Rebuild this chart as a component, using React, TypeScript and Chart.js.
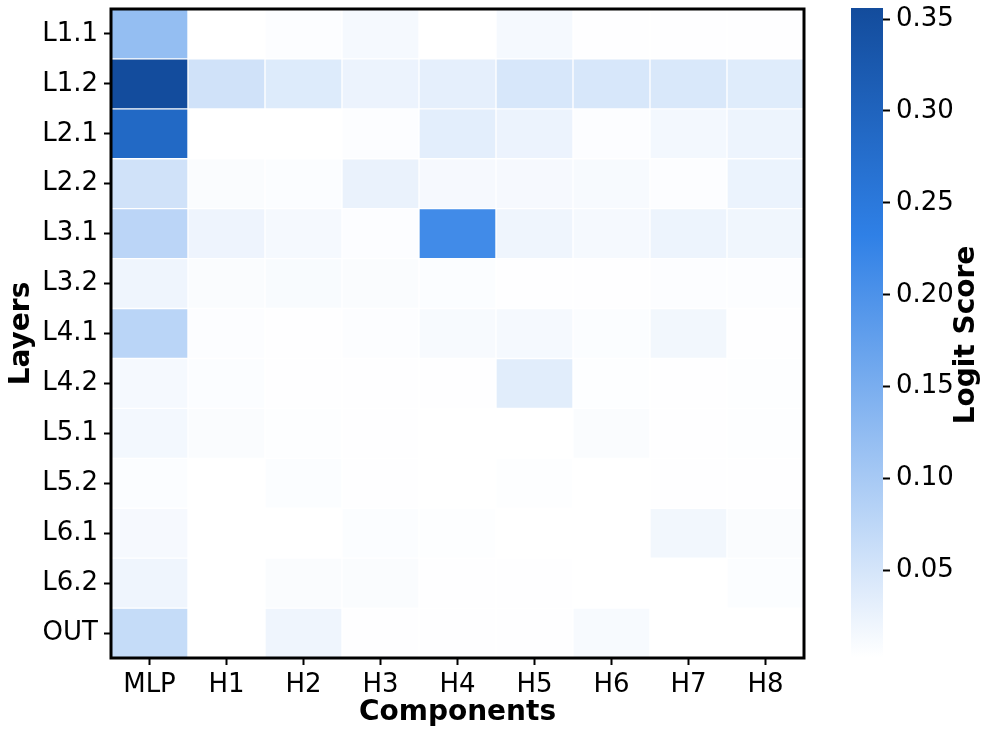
import React, { useEffect, useRef } from "react";
import { Chart, registerables } from "chart.js";

Chart.register(...registerables);

const ROWS = ["L1.1", "L1.2", "L2.1", "L2.2", "L3.1", "L3.2", "L4.1", "L4.2", "L5.1", "L5.2", "L6.1", "L6.2", "OUT"];
const COMPONENTS = ["MLP", "H1", "H2", "H3", "H4", "H5", "H6", "H7", "H8"];

// rows = layers (top to bottom), columns = components
const SCORES = [
  [0.121, 0.003, 0.006, 0.014, 0.003, 0.014, 0.004, 0.004, 0.004],
  [0.355, 0.055, 0.040, 0.024, 0.032, 0.047, 0.047, 0.045, 0.038],
  [0.288, 0.003, 0.003, 0.006, 0.034, 0.024, 0.006, 0.016, 0.023],
  [0.055, 0.009, 0.007, 0.026, 0.013, 0.013, 0.012, 0.006, 0.025],
  [0.078, 0.022, 0.014, 0.006, 0.213, 0.021, 0.014, 0.023, 0.019],
  [0.021, 0.008, 0.011, 0.009, 0.007, 0.004, 0.004, 0.006, 0.006],
  [0.079, 0.006, 0.004, 0.006, 0.012, 0.014, 0.007, 0.017, 0.004],
  [0.014, 0.007, 0.004, 0.004, 0.004, 0.036, 0.005, 0.004, 0.005],
  [0.016, 0.008, 0.005, 0.004, 0.003, 0.003, 0.008, 0.004, 0.005],
  [0.007, 0.003, 0.007, 0.004, 0.003, 0.005, 0.003, 0.004, 0.004],
  [0.013, 0.003, 0.003, 0.007, 0.005, 0.003, 0.003, 0.017, 0.008],
  [0.021, 0.003, 0.009, 0.008, 0.004, 0.004, 0.003, 0.003, 0.007],
  [0.067, 0.003, 0.021, 0.004, 0.004, 0.004, 0.012, 0.003, 0.003],
];

const COLORBAR_TICKS = [0.05, 0.1, 0.15, 0.2, 0.25, 0.3, 0.35];
const VMIN = 0.003;
const VMAX = 0.356;

const CMAP_STOPS: [number, number[]][] = [
  [0, [255, 255, 255]],
  [0.65, [47, 128, 230]],
  [1, [19, 76, 156]],
];

const FONT = "'DejaVu Sans', sans-serif";

function rgb(c: number[]) {
  return `rgb(${Math.round(c[0])},${Math.round(c[1])},${Math.round(c[2])})`;
}

function colorFor(v: number) {
  let t = (v - VMIN) / (VMAX - VMIN);
  t = Math.max(0, Math.min(1, t));
  for (let k = 0; k < CMAP_STOPS.length - 1; k++) {
    const [t0, c0] = CMAP_STOPS[k];
    const [t1, c1] = CMAP_STOPS[k + 1];
    if (t <= t1) {
      const f = (t - t0) / (t1 - t0);
      return rgb(c0.map((a, i) => a + (c1[i] - a) * f));
    }
  }
  return rgb(CMAP_STOPS[CMAP_STOPS.length - 1][1]);
}

const framePlugin = {
  id: "frame",
  afterDraw(chart: any) {
    const { ctx, chartArea } = chart;
    const { left, top, right, bottom } = chartArea;
    ctx.save();
    ctx.strokeStyle = "#000";
    ctx.lineWidth = 3;
    ctx.strokeRect(left, top, right - left, bottom - top);
    ctx.restore();
  },
};

const cbarTitlePlugin = {
  id: "cbarTitle",
  afterDraw(chart: any) {
    const { ctx } = chart;
    ctx.save();
    ctx.translate(127, 335);
    ctx.rotate(-Math.PI / 2);
    ctx.font = `bold 28px ${FONT}`;
    ctx.fillStyle = "#000";
    ctx.textAlign = "center";
    ctx.textBaseline = "middle";
    ctx.fillText("Logit Score", 0, 0);
    ctx.restore();
  },
};

export default function App() {
  const mainRef = useRef<HTMLCanvasElement>(null);
  const cbarRef = useRef<HTMLCanvasElement>(null);

  useEffect(() => {
    Chart.defaults.font.family = FONT;
    Chart.defaults.color = "#000";

    const tickGrid = {
      drawOnChartArea: false,
      drawTicks: true,
      tickLength: 7,
      tickWidth: 2,
      tickColor: "#000",
    };

    const main = new Chart(mainRef.current as HTMLCanvasElement, {
      type: "bar",
      data: {
        labels: COMPONENTS,
        datasets: ROWS.map((row, i) => ({
          label: row,
          data: COMPONENTS.map(() => [i, i + 1]),
          backgroundColor: SCORES[i].map(colorFor),
          borderColor: "#ffffff",
          borderWidth: 1,
          borderSkipped: false,
          barPercentage: 1,
          categoryPercentage: 1,
          grouped: false,
        })) as any,
      },
      options: {
        animation: false,
        responsive: false,
        layout: { padding: { top: 9, right: 36, left: 0, bottom: 0 } },
        plugins: { legend: { display: false }, tooltip: { enabled: false } },
        scales: {
          x: {
            type: "category",
            offset: true,
            grid: { ...tickGrid, offset: false },
            border: { display: false },
            ticks: { color: "#000", font: { size: 26 }, padding: 5, autoSkip: false, maxRotation: 0 },
            title: {
              display: true,
              text: "Components",
              color: "#000",
              font: { size: 28, weight: "bold" },
              padding: { top: 0, bottom: 10 },
            },
            afterFit: (s: any) => {
              s.height = 82;
              s.paddingLeft = 0;
              s.paddingRight = 0;
            },
          },
          y: {
            type: "linear",
            min: 0,
            max: ROWS.length,
            reverse: true,
            afterBuildTicks: (s: any) => {
              s.ticks = ROWS.map((_, i) => ({ value: i + 0.5 }));
            },
            grid: tickGrid,
            border: { display: false },
            ticks: {
              color: "#000",
              font: { size: 26 },
              padding: 6,
              autoSkip: false,
              callback: (v: any) => ROWS[Math.floor(Number(v))],
            },
            title: {
              display: true,
              text: "Layers",
              color: "#000",
              font: { size: 28, weight: "bold" },
              padding: { top: 5, bottom: 0 },
            },
            afterFit: (s: any) => {
              s.width = 111;
              s.paddingTop = 0;
              s.paddingBottom = 0;
            },
          },
        } as any,
      },
      plugins: [framePlugin],
    });

    const cbar = new Chart(cbarRef.current as HTMLCanvasElement, {
      type: "bar",
      data: {
        labels: [""],
        datasets: [
          {
            data: [[VMIN, VMAX]] as any,
            backgroundColor: (c: any) => {
              const chart = c.chart;
              if (!chart.chartArea) return "transparent";
              const ys = chart.scales.y;
              const g = chart.ctx.createLinearGradient(0, ys.getPixelForValue(VMIN), 0, ys.getPixelForValue(VMAX));
              CMAP_STOPS.forEach(([t, col]) => g.addColorStop(t, rgb(col)));
              return g;
            },
            borderWidth: 0,
            barPercentage: 1,
            categoryPercentage: 1,
          },
        ],
      },
      options: {
        animation: false,
        responsive: false,
        layout: { padding: { top: 8, left: 11, bottom: 83, right: 0 } },
        plugins: { legend: { display: false }, tooltip: { enabled: false } },
        scales: {
          x: { display: false },
          y: {
            type: "linear",
            position: "right",
            min: VMIN,
            max: VMAX,
            afterBuildTicks: (s: any) => {
              s.ticks = COLORBAR_TICKS.map((v) => ({ value: v }));
            },
            grid: tickGrid,
            border: { display: false },
            ticks: {
              color: "#000",
              font: { size: 26 },
              padding: 6,
              callback: (v: any) => Number(v).toFixed(2),
            },
            afterFit: (s: any) => {
              s.width = 113;
              s.paddingTop = 0;
              s.paddingBottom = 0;
            },
          },
        } as any,
      },
      plugins: [cbarTitlePlugin],
    });

    return () => {
      main.destroy();
      cbar.destroy();
    };
  }, []);

  return (
    <div style={{ position: "fixed", left: 0, top: 0, width: 996, height: 740, background: "#fff" }}>
      <canvas
        ref={mainRef}
        width={840}
        height={740}
        style={{ position: "absolute", left: 0, top: 0, width: 840, height: 740 }}
      />
      <canvas
        ref={cbarRef}
        width={156}
        height={740}
        style={{ position: "absolute", left: 840, top: 0, width: 156, height: 740 }}
      />
    </div>
  );
}
